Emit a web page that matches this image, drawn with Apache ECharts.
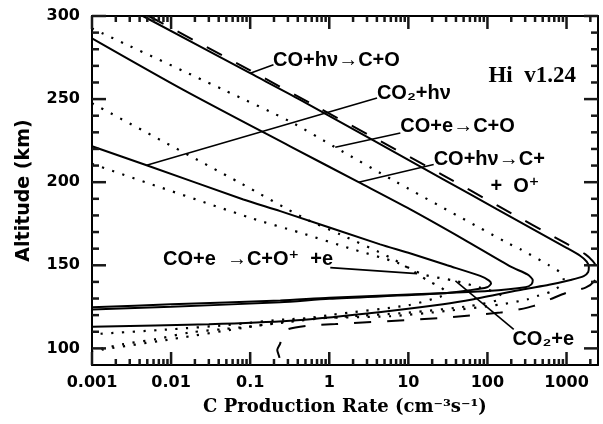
<!DOCTYPE html>
<html>
<head>
<meta charset="utf-8">
<script src="https://cdn.jsdelivr.net/npm/echarts@6/dist/echarts.min.js"></script>
<style>
html,body{margin:0;padding:0;background:#fff;}
#c{width:603px;height:424px;}
</style>
</head>
<body>
<div id="c"></div>
<script>
// ---------- axis ranges & ticks ----------
const xMin = 0.001, xMax = 2500;
const yMin = 90, yMax = 300;
const xMajorTicks = [0.001, 0.01, 0.1, 1, 10, 100, 1000];
const xMinorTicks = [0.002,0.003,0.004,0.005,0.006,0.007,0.008,0.009,
  0.02,0.03,0.04,0.05,0.06,0.07,0.08,0.09,
  0.2,0.3,0.4,0.5,0.6,0.7,0.8,0.9,
  2,3,4,5,6,7,8,9,
  20,30,40,50,60,70,80,90,
  200,300,400,500,600,700,800,900,
  2000];
const yMajorTicks = [100, 150, 200, 250, 300];
const yMinorTicks = [110,120,130,140,160,170,180,190,210,220,230,240,260,270,280,290];

// ---------- curves: [production rate, altitude km] ----------
const totalDashed = [
  [0.0052,300],[0.1,267.3],[0.63,246.5],[28,204],[133,186],[1000,163],[1738,156.6],[2150,152.5],
  [2400,149],[2450,145.5],[2250,140.5],[1738,136.6],[1018,133.6],[627,129.6],[386,125.6],[238,123.2],
  [146,121.6],[31,118.6],[1.2,114.6],[0.52,113.6],[0.3,111.5],[0.25,108],[0.24,103],[0.22,99],[0.235,94],[0.22,90]
];
const coHvToCO = [
  [0.0044,300],[0.1,265.6],[0.43,249.6],[28,201.6],[133,183.6],[1000,160.5],[1500,155.6],[1800,152.2],
  [1915,149],[1880,146],[1650,143.5],[1125,141.2],[600,138.3],[288,135.6],[67,129.6],[27.5,126.6],
  [3,121],[0.32,116.6],[0.03,114.5],[0.001,113]
];
const coeToCO = [
  [0.001,292.5],[0.046,255.6],[0.32,236.5],[1.19,221],[6.8,200.5],[177,163.6],[262,159.6],[600,150],
  [840,145.6],[920,141.5],[850,138],[627,134],[426,131.5],[316,129.4],[146,126.4],[30,122.5],[6,119.4],
  [0.32,117.6],[0.05,114],[0.01,111.5],[0.001,108.5]
];
const coHvToCpOp = [
  [0.001,286.6],[0.0143,255.6],[0.32,221.6],[2.35,200],[10.6,183.6],[50,165.6],[200,149],[320,144.5],
  [374,141],[360,138.5],[302,136.8],[100,134.5],[25,133.2],[1,130.5],[0.24,128.8],[0.01,126.5],[0.001,124.8]
];
const co2Hv = [
  [0.001,221.6],[0.0049,210.2],[0.082,189.6],[0.24,182.6],[4.4,162.6],[10,157.5],[31,150],[81,143.6],
  [105,140.8],[111,139],[99,136.8],[60,135],[25,133],[1,129.8],[0.24,127.8],[0.01,125],[0.001,123.4]
];
const coeToCOpE = [
  [0.001,247.5],[0.075,199.5],[0.47,178.6],[1.38,168.6],[6,154.5],[12.9,145],[18,140.5],[24,137.5],
  [28.5,135],[29,133],[25,131],[10,126],[1,120],[0.1,113],[0.01,105.5],[0.001,98.4]
];
const co2e = [
  [0.001,211],[0.1,178.6],[0.43,169.6],[2,159.6],[7.2,151.6],[15.7,144.4],[39.4,140.6],[78,136.8],
  [99,135.4],[135,133.3],[150,131.5],[135,129],[60,125.5],[10,121.5],[1,118.5],[0.32,116],[0.12,113.6],
  [0.046,111.6],[0.0174,109.6],[0.0066,105.6],[0.0025,102.6],[0.001,98.6]
];

// ---------- annotation leader lines (data space) ----------
const leaderCoHvToCO = [[0.1,265.6],[0.197,270.6]];
const leaderCo2Hv = [[0.0049,210.2],[4.02,250.6]];
const leaderCoeToCO = [[1.19,221],[7.92,229.6]];
const leaderCoHvToCpOp = [[2.35,200],[20.9,210.6]];
const leaderCoeToCOpE = [[1.03,148.6],[12.9,145]];
const leaderCo2e = [[39.4,140.6],[215,111.4]];

// ---------- annotation texts (anchor = left edge, vertical middle, data space) ----------
const labelTexts = ['CO+h\u03bd\u2192C+O', 'Hi  v1.24', 'CO\u2082+h\u03bd', 'CO+e\u2192C+O', 'CO+h\u03bd\u2192C+', '+  O\u207a', 'CO+e  \u2192C+O\u207a  +e', 'CO\u2082+e'];
const labelAnchors = [[0.195,273.3],[103,263.7],[4.0,253.6],[7.92,233.6],[20.9,213.6],[109,197.6],[0.0079,153.4],[207,105.4]];

const chart = echarts.init(document.getElementById('c'), null, {renderer:'canvas'});

const fmtX = v => String(+Number(v).toPrecision(3));
const tickFont = {color:'#000', fontFamily:'DejaVu Sans', fontWeight:'bold', fontSize:16};
const frameLine = {show:true, onZero:false, lineStyle:{color:'#000', width:2}};

function xAx(pos, withLabel) {
  const ax = {
    type:'log', logBase:10, min:xMin, max:xMax, position:pos,
    axisLine: frameLine, axisTick:{show:false},
    axisLabel: withLabel ? Object.assign({show:true, customValues:xMajorTicks, formatter:fmtX, margin:10}, tickFont) : {show:false},
    splitLine:{show:false}, minorTick:{show:false}, minorSplitLine:{show:false}
  };
  if (withLabel) {
    ax.name = 'C Production Rate (cm\u207b\u00b3s\u207b\u00b9)';
    ax.nameLocation = 'middle';
    ax.nameGap = 33;
    ax.nameTextStyle = {color:'#000', fontFamily:'DejaVu Serif', fontWeight:'bold', fontSize:18};
  }
  return ax;
}
function yAx(pos, withLabel) {
  const ax = {
    type:'value', min:yMin, max:yMax, position:pos,
    axisLine: frameLine, axisTick:{show:false},
    axisLabel: withLabel ? Object.assign({show:true, customValues:yMajorTicks, margin:12}, tickFont) : {show:false},
    splitLine:{show:false}, minorTick:{show:false}
  };
  if (withLabel) {
    ax.name = 'Altitude (km)';
    ax.nameLocation = 'middle';
    ax.nameGap = 58;
    ax.nameRotate = 90;
    ax.nameTextStyle = {color:'#000', fontFamily:'DejaVu Sans', fontWeight:'bold', fontSize:19};
  }
  return ax;
}

function line(data, kind) {
  let ls = {color:'#000', width:2, type:'solid'};
  if (kind === 'dot') ls = {color:'#000', width:2.2, type:[2.2, 8.5]};
  if (kind === 'dash') ls = {color:'#000', width:2, type:[17, 16]};
  if (kind === 'lead') ls = {color:'#000', width:1.6, type:'solid'};
  return {type:'line', data:data, xAxisIndex:0, yAxisIndex:0, showSymbol:false, symbol:'none',
    smooth: kind === 'lead' ? false : 0.25, lineStyle:ls, silent:true, animation:false, clip:true, z:3};
}

chart.setOption({
  animation:false,
  backgroundColor:'#fff',
  grid:{left:92, right:5, top:16, bottom:59, containLabel:false},
  xAxis:[xAx('bottom', true), xAx('top', false)],
  yAxis:[yAx('left', true), yAx('right', false)],
  series:[
    line(totalDashed, 'dash'),
    line(coHvToCO, 'solid'),
    line(coeToCO, 'dot'),
    line(coHvToCpOp, 'solid'),
    line(co2Hv, 'solid'),
    line(coeToCOpE, 'dot'),
    line(co2e, 'dot'),
    line(leaderCoHvToCO, 'lead'),
    line(leaderCo2Hv, 'lead'),
    line(leaderCoeToCO, 'lead'),
    line(leaderCoHvToCpOp, 'lead'),
    line(leaderCoeToCOpE, 'lead'),
    line(leaderCo2e, 'lead')
  ]
});

const toPx = pt => chart.convertToPixel({xAxisIndex:0, yAxisIndex:0}, pt);
const graphics = [];

// tick marks (inside), placed through the axes' own scales
function addTicks(points, dx, dy) {
  points.forEach(pt => {
    const p = toPx(pt);
    graphics.push({type:'line', silent:true, z:8,
      shape:{x1:p[0], y1:p[1], x2:p[0] + dx, y2:p[1] + dy},
      style:{stroke:'rgb(24,24,24)', lineWidth:2.5}});
  });
}
addTicks(xMajorTicks.map(v => [v, yMin]), 0, -13);
addTicks(xMinorTicks.map(v => [v, yMin]), 0, -6);
addTicks(xMajorTicks.map(v => [v, yMax]), 0, 13);
addTicks(xMinorTicks.map(v => [v, yMax]), 0, 6);
addTicks(yMajorTicks.map(v => [xMin, v]), 14, 0);
addTicks(yMinorTicks.map(v => [xMin, v]), 7, 0);
addTicks(yMajorTicks.map(v => [xMax, v]), -14, 0);
addTicks(yMinorTicks.map(v => [xMax, v]), -7, 0);

labelTexts.forEach((t, i) => {
  const p = toPx(labelAnchors[i]);
  const serif = (i === 1);
  graphics.push({
    type:'text', x:p[0], y:p[1], z:10, silent:true,
    style:{text:t, fill:'#000', align:'left', verticalAlign:'middle',
      font: serif ? 'bold 23px "Liberation Serif"' : 'bold 20px "Liberation Sans", "DejaVu Sans"'}
  });
});
chart.setOption({graphic: graphics});
</script>
</body>
</html>
